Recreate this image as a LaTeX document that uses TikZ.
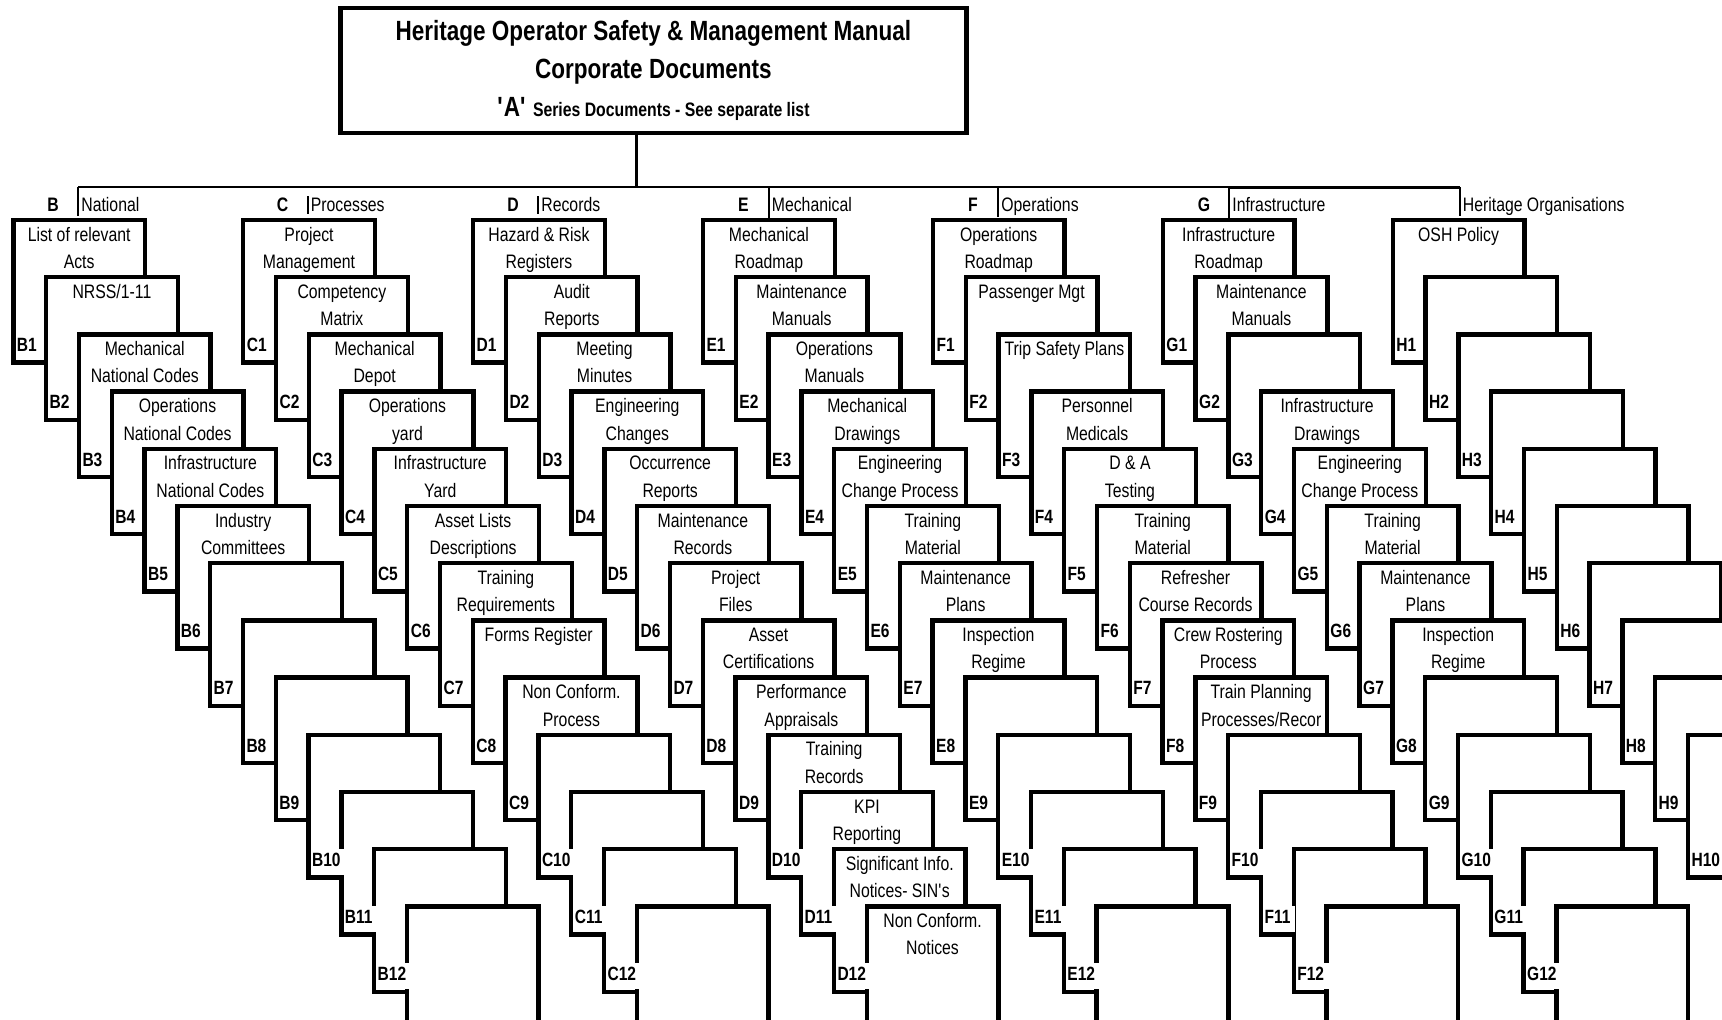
\documentclass[tikz,border=0pt]{standalone}
\usepackage{fontspec}
\setmainfont{Liberation Sans}[FakeStretch=0.81]
\newcommand\mycard[5]{%
  \pgfmathsetmacro\cardx{13.3+229.9*#2+32.8*(#3-1)}%
  \pgfmathsetmacro\cardy{220+57.2*(#3-1)}%
  \node[card] (#1) at (\cardx,\cardy) {};
  \node[ctext] (#1-a) at ([yshift=-10.5pt]#1.north) {#4};
  \node[ctext] (#1-b) at ([yshift=-24.25pt]#1.north) {#5};
}
\begin{document}
\begin{tikzpicture}[x=0.5pt,y=-0.5pt,
  card/.style={draw, fill=white, line width=2.2pt, minimum width=65.85pt, minimum height=71.25pt, inner sep=0pt, outer sep=0pt, anchor=north west},
  ctext/.style={anchor=base, inner sep=0pt, font=\fontsize{9.75}{11}\selectfont},
  lbl/.style={anchor=base west, fill=white, inner sep=0pt, text height=9pt, text depth=4pt, font=\bfseries\fontsize{9.6}{10}\selectfont},
  cat/.style={anchor=base west, inner sep=0pt, font=\fontsize{9.75}{11}\selectfont},
  catl/.style={anchor=base, inner sep=0pt, font=\bfseries\fontsize{9.75}{11}\selectfont},
  ttl/.style={anchor=base, inner sep=0pt, font=\bfseries\fontsize{13.9}{15}\selectfont},
  tick/.style={line width=1pt}]
\useasboundingbox (0,0) rectangle (1722,1019);
\fill[white] (0,0) rectangle (1722,1019);
\clip (0,0) rectangle (1722,1019);

% header
\node[draw, line width=2.2pt, minimum width=313pt, minimum height=62.65pt, inner sep=0pt, outer sep=0pt, anchor=north west] (top) at (340.4,7.7) {};
\node[ttl] (t1) at (653.4,40.6) {Heritage Operator Safety \& Management Manual};
\node[ttl] (t2) at (653.4,78.5) {Corporate Documents};
\node[ttl] (t3) at (653.4,116.4) {\textquotesingle A\textquotesingle\ {\fontsize{9.75}{11}\selectfont Series Documents - See separate list}};

\coordinate (hub) at (636,187);
\draw[line width=1.5pt] (top.south -| hub) -- (hub);
\coordinate (barB) at (78,187);
\coordinate (barG) at (1229,187);
\coordinate (barH) at (1459.5,187);
\draw[line width=1pt] (barB) -- (barG);
\draw[line width=1.5pt] (barG) -- (barH);

% ticks
\coordinate (tB1) at (78,187);   \coordinate (tB2) at (78,216);
\coordinate (tC1) at (307.5,196); \coordinate (tC2) at (307.5,214);
\coordinate (tD1) at (538,196);  \coordinate (tD2) at (538,214);
\coordinate (tE1) at (768.5,187); \coordinate (tE2) at (768.5,222);
\coordinate (tF1) at (998,187);  \coordinate (tF2) at (998,217);
\coordinate (tG1) at (1229,187); \coordinate (tG2) at (1229,221);
\coordinate (tH1) at (1459.5,187); \coordinate (tH2) at (1459.5,216);
\foreach \k in {B,C,D,E,F,G,H}{\draw[tick] (t\k1) -- (t\k2);}

% category labels
\node[catl] (letB) at (53,211.5) {B};
\node[catl] (letC) at (282.5,211.5) {C};
\node[catl] (letD) at (513,211.5) {D};
\node[catl] (letE) at (743.5,211.5) {E};
\node[catl] (letF) at (973,211.5) {F};
\node[catl] (letG) at (1204,211.5) {G};
\node[cat] (catB) at (81,211.5) {National};
\node[cat] (catC) at (310.5,211.5) {Processes};
\node[cat] (catD) at (541,211.5) {Records};
\node[cat] (catE) at (771.5,211.5) {Mechanical};
\node[cat] (catF) at (1001,211.5) {Operations};
\node[cat] (catG) at (1232,211.5) {Infrastructure};
\node[cat] (catH) at (1462.5,211.5) {Heritage Organisations};

% column B
\mycard{B1}{0}{1}{List of relevant}{Acts}
\mycard{B2}{0}{2}{NRSS/1-11}{}
\mycard{B3}{0}{3}{Mechanical}{National Codes}
\mycard{B4}{0}{4}{Operations}{National Codes}
\mycard{B5}{0}{5}{Infrastructure}{National Codes}
\mycard{B6}{0}{6}{Industry}{Committees}
\foreach \n in {7,...,13}{\mycard{B\n}{0}{\n}{}{}}

% column C
\mycard{C1}{1}{1}{Project}{Management}
\mycard{C2}{1}{2}{Competency}{Matrix}
\mycard{C3}{1}{3}{Mechanical}{Depot}
\mycard{C4}{1}{4}{Operations}{yard}
\mycard{C5}{1}{5}{Infrastructure}{Yard}
\mycard{C6}{1}{6}{Asset Lists}{Descriptions}
\mycard{C7}{1}{7}{Training}{Requirements}
\mycard{C8}{1}{8}{Forms Register}{}
\mycard{C9}{1}{9}{Non Conform.}{Process}
\foreach \n in {10,...,13}{\mycard{C\n}{1}{\n}{}{}}

% column D
\mycard{D1}{2}{1}{Hazard \& Risk}{Registers}
\mycard{D2}{2}{2}{Audit}{Reports}
\mycard{D3}{2}{3}{Meeting}{Minutes}
\mycard{D4}{2}{4}{Engineering}{Changes}
\mycard{D5}{2}{5}{Occurrence}{Reports}
\mycard{D6}{2}{6}{Maintenance}{Records}
\mycard{D7}{2}{7}{Project}{Files}
\mycard{D8}{2}{8}{Asset}{Certifications}
\mycard{D9}{2}{9}{Performance}{Appraisals}
\mycard{D10}{2}{10}{Training}{Records}
\mycard{D11}{2}{11}{KPI}{Reporting}
\mycard{D12}{2}{12}{Significant Info.}{Notices- SIN\textquotesingle s}
\mycard{D13}{2}{13}{Non Conform.}{Notices}

% column E
\mycard{E1}{3}{1}{Mechanical}{Roadmap}
\mycard{E2}{3}{2}{Maintenance}{Manuals}
\mycard{E3}{3}{3}{Operations}{Manuals}
\mycard{E4}{3}{4}{Mechanical}{Drawings}
\mycard{E5}{3}{5}{Engineering}{Change Process}
\mycard{E6}{3}{6}{Training}{Material}
\mycard{E7}{3}{7}{Maintenance}{Plans}
\mycard{E8}{3}{8}{Inspection}{Regime}
\foreach \n in {9,...,13}{\mycard{E\n}{3}{\n}{}{}}

% column F
\mycard{F1}{4}{1}{Operations}{Roadmap}
\mycard{F2}{4}{2}{Passenger Mgt}{}
\mycard{F3}{4}{3}{Trip Safety Plans}{}
\mycard{F4}{4}{4}{Personnel}{Medicals}
\mycard{F5}{4}{5}{D \& A}{Testing}
\mycard{F6}{4}{6}{Training}{Material}
\mycard{F7}{4}{7}{Refresher}{Course Records}
\mycard{F8}{4}{8}{Crew Rostering}{Process}
\mycard{F9}{4}{9}{Train Planning}{Processes/Recor}
\foreach \n in {10,...,13}{\mycard{F\n}{4}{\n}{}{}}

% column G
\mycard{G1}{5}{1}{Infrastructure}{Roadmap}
\mycard{G2}{5}{2}{Maintenance}{Manuals}
\mycard{G3}{5}{3}{}{}
\mycard{G4}{5}{4}{Infrastructure}{Drawings}
\mycard{G5}{5}{5}{Engineering}{Change Process}
\mycard{G6}{5}{6}{Training}{Material}
\mycard{G7}{5}{7}{Maintenance}{Plans}
\mycard{G8}{5}{8}{Inspection}{Regime}
\foreach \n in {9,...,13}{\mycard{G\n}{5}{\n}{}{}}

% column H
\mycard{H1}{6}{1}{OSH Policy}{}
\foreach \n in {2,...,10}{\mycard{H\n}{6}{\n}{}{}}

% card labels on top
\foreach \L/\N in {B/12,C/12,D/12,E/12,F/12,G/12,H/10}{
  \foreach \n in {1,...,\N}{
    \node[lbl] (\L\n-l) at ([xshift=1.6pt,yshift=-65.85pt]\L\n.north west) {\L\n\kern2.5pt};
  }
}
\end{tikzpicture}
\end{document}
